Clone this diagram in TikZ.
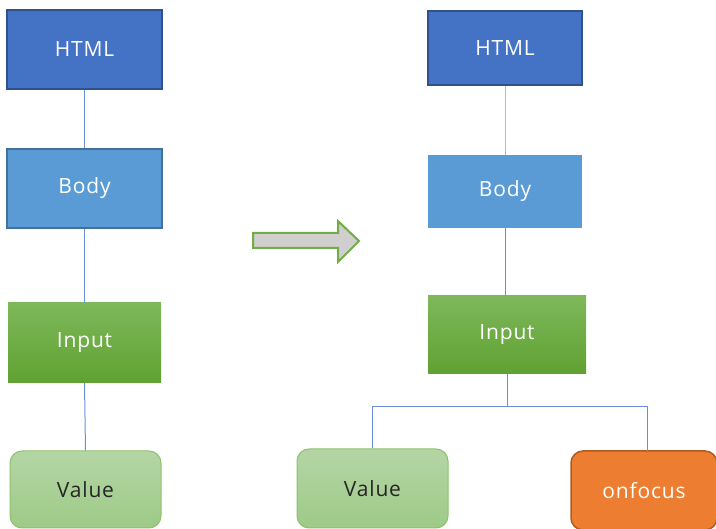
\documentclass[tikz,border=0pt]{standalone}
\usepackage{fontspec}
\setmainfont{Open Sans}[LetterSpace=4]
\definecolor{htmlfill}{HTML}{4472C4}
\definecolor{htmldraw}{HTML}{2F528F}
\definecolor{bodyfill}{HTML}{5B9BD5}
\definecolor{bodydraw}{HTML}{41719C}
\definecolor{inputtop}{HTML}{7DB85A}
\definecolor{inputbot}{HTML}{60A132}
\definecolor{valtop}{HTML}{B4D5A5}
\definecolor{valbot}{HTML}{9ECA87}
\definecolor{valdraw}{HTML}{8DC26C}
\definecolor{orfill}{HTML}{ED7D31}
\definecolor{ordraw}{HTML}{AE5A21}
\definecolor{linkc}{HTML}{6A8FD8}
\definecolor{arrfill}{HTML}{D0CECE}
\definecolor{arrdraw}{HTML}{70AD47}
\tikzset{
  box/.style={rectangle, inner sep=0pt, font=\fontsize{21}{25}\selectfont, text=white},
  htmlbox/.style={box, fill=htmlfill, draw=htmldraw, line width=1.5pt},
  bodybox/.style={box, fill=bodyfill, draw=bodydraw, line width=1.5pt},
  bodyboxplain/.style={box, fill=bodyfill},
  inputbox/.style={box, top color=inputtop, bottom color=inputbot},
  valuebox/.style={box, rounded corners=12pt, top color=valtop, bottom color=valbot, draw=valdraw, line width=1pt, text=black!85},
  focusbox/.style={box, rounded corners=12pt, fill=orfill, draw=ordraw, line width=1.5pt},
  link/.style={draw=linkc, line width=1pt},
}
\begin{document}
\begin{tikzpicture}[x=1pt,y=-1pt]
\useasboundingbox (0,0) rectangle (716,529);
% left column
\node[htmlbox, minimum width=155pt, minimum height=79pt] (lhtml) at (84.5,49.5) {HTML};
\node[bodybox, minimum width=155pt, minimum height=79pt] (lbody) at (84.5,188.5) {Body};
\node[inputbox, minimum width=153pt, minimum height=80pt] (linput) at (84.5,343) {Input};
\node[valuebox, minimum width=151pt, minimum height=77pt] (lvalue) at (85.5,489.5) {Value};
\draw[link] (lhtml) -- (lbody);
\draw[link] (lbody) -- (linput);
\draw[link] (linput.south) -- (lvalue.north);
% arrow
\draw[fill=arrfill, draw=arrdraw, line width=2pt, line join=miter]
  (253,233) -- (338,233) -- (338,221) -- (359,241) -- (338,262) -- (338,248) -- (253,248) -- cycle;
% right column
\node[htmlbox, minimum width=154pt, minimum height=74pt] (rhtml) at (505,48) {HTML};
\node[bodyboxplain, minimum width=154pt, minimum height=73pt] (rbody) at (505,191.5) {Body};
\node[inputbox, minimum width=158pt, minimum height=78pt] (rinput) at (507,335) {Input};
\node[valuebox, minimum width=151pt, minimum height=79pt] (rvalue) at (372.5,488.5) {Value};
\node[focusbox, minimum width=146pt, minimum height=79pt] (focus) at (644,490.5) {onfocus};
\draw[link, draw=linkc!60] (rhtml) -- (rbody);
\draw[link] (rbody) -- (rbody |- rinput.north);
\coordinate (fork) at (507,407);
\coordinate (ftop) at (647,451);
\draw[link] (rinput.south) -- (fork);
\draw[link] (rvalue.north) -- (rvalue.north |- fork) -- (ftop |- fork) -- (ftop);
\end{tikzpicture}
\end{document}
